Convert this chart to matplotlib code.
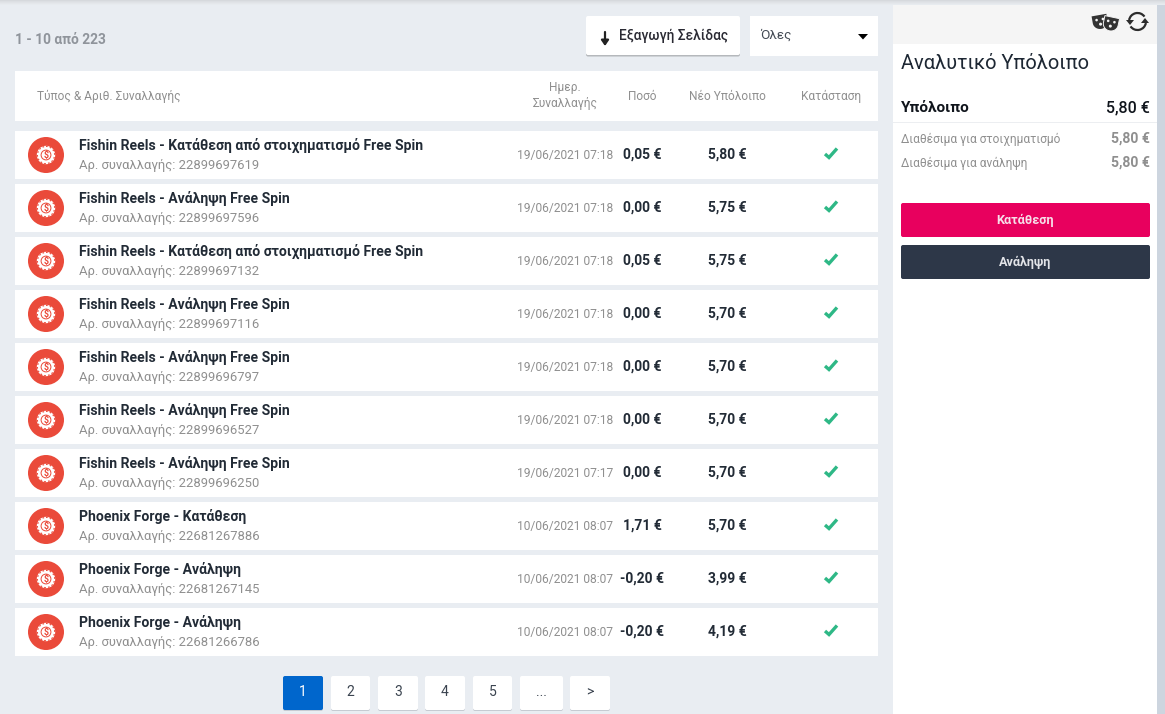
import numpy as np
import matplotlib
matplotlib.use("Agg")
import matplotlib.pyplot as plt
from matplotlib.patches import Rectangle, Circle, FancyBboxPatch, Arc, Polygon

plt.rcParams['font.family'] = ['Roboto', 'DejaVu Sans']

# ---- data ----
titles = ["Fishin Reels - Κατάθεση από στοιχηματισμό Free Spin", "Fishin Reels - Ανάληψη Free Spin",
          "Fishin Reels - Κατάθεση από στοιχηματισμό Free Spin", "Fishin Reels - Ανάληψη Free Spin",
          "Fishin Reels - Ανάληψη Free Spin", "Fishin Reels - Ανάληψη Free Spin",
          "Fishin Reels - Ανάληψη Free Spin", "Phoenix Forge - Κατάθεση",
          "Phoenix Forge - Ανάληψη", "Phoenix Forge - Ανάληψη"]
tx_ids = ["22899697619", "22899697596", "22899697132", "22899697116", "22899696797",
          "22899696527", "22899696250", "22681267886", "22681267145", "22681266786"]
dates = ["19/06/2021 07:18"] * 6 + ["19/06/2021 07:17"] + ["10/06/2021 08:07"] * 3
amounts = ["0,05 €", "0,00 €", "0,05 €", "0,00 €", "0,00 €", "0,00 €", "0,00 €", "1,71 €", "-0,20 €", "-0,20 €"]
balances = ["5,80 €", "5,75 €", "5,75 €", "5,70 €", "5,70 €", "5,70 €", "5,70 €", "5,70 €", "3,99 €", "4,19 €"]
pages = ["1", "2", "3", "4", "5", "...", ">"]
page_lefts = [283, 331, 378, 425, 473, 520, 570]
page_rights = [323, 370, 418, 465, 512, 563, 610]

BG = "#e9edf2"; DARK = "#222b36"; GREY = "#8f8f8f"; RED = "#ea4a3a"; GREEN = "#2eb886"

fig = plt.figure(figsize=(11.65, 7.14), dpi=100, facecolor=BG)
ax = fig.add_axes([0, 0, 1, 1])
ax.set_xlim(0, 1165); ax.set_ylim(714, 0); ax.axis("off")

def rect(x0, y0, x1, y1, color, z=1, **kw):
    ax.add_patch(Rectangle((x0, y0), x1 - x0, y1 - y0, facecolor=color, edgecolor="none", zorder=z, **kw))

def rrect(x0, y0, x1, y1, color, r=2, z=1):
    ax.add_patch(FancyBboxPatch((x0 + r, y0 + r), x1 - x0 - 2 * r, y1 - y0 - 2 * r,
                                boxstyle=f"round,pad={r},rounding_size={r}", facecolor=color,
                                edgecolor="none", zorder=z))

def txt(x, y, s, size, color=DARK, weight="normal", ha="left", z=5, **kw):
    ax.text(x, y, s, fontsize=size, color=color, fontweight=weight, ha=ha, va="center", zorder=z, **kw)

def check(cx, cy):
    ax.plot([cx - 6, cx - 2, cx + 6], [cy + 0.5, cy + 4, cy - 5], color=GREEN, lw=2.4,
            solid_capstyle="butt", solid_joinstyle="miter", zorder=5)

def chip(cx, cy):
    ax.add_patch(Circle((cx, cy), 18, facecolor=RED, edgecolor="none", zorder=3))
    ax.add_patch(Circle((cx, cy), 9.2, facecolor="white", edgecolor="none", zorder=4))
    ax.add_patch(Circle((cx, cy), 8.6, facecolor="none", edgecolor=RED, lw=0.8, ls=(0, (1.5, 2.0)), zorder=5))
    ax.add_patch(Circle((cx, cy), 5.4, facecolor=RED, edgecolor="none", zorder=5))
    ax.add_patch(Circle((cx, cy), 4.4, facecolor="white", edgecolor="none", zorder=6))
    ax.text(cx, cy + 0.2, "$", fontsize=6.4, color=RED, fontweight="bold", ha="center", va="center", zorder=7)

def mask(cx, cy, angle, color, edge=None):
    t = np.linspace(0, np.pi, 24)
    xs = np.concatenate([[-7.5], 7.5 * np.cos(t[::-1]), [7.5]])
    ys = np.concatenate([[-6], 1 + 7 * np.sin(t[::-1]), [-6]])
    a = np.radians(angle)
    px = cx + xs * np.cos(a) - ys * np.sin(a)
    py = cy + xs * np.sin(a) + ys * np.cos(a)
    ax.add_patch(Polygon(np.column_stack([px, py]), closed=True, facecolor=color,
                         edgecolor=edge or "none", lw=0.7, zorder=6))
    for ex in (-3.2, 3.2):
        ax.add_patch(Circle((cx + ex * np.cos(a) + 1.5 * np.sin(a), cy + ex * np.sin(a) - 1.5 * np.cos(a)),
                            1.3, facecolor="#f5f5f5", edgecolor="none", zorder=7))
    ax.add_patch(Circle((cx - 3.2 * np.sin(a), cy + 3.2 * np.cos(a)), 1.5, facecolor="#f5f5f5",
                        edgecolor="none", zorder=7))

# top shadow
for i, c in enumerate(["#d6d9dd", "#dcdfe3", "#e0e3e7", "#e4e7eb", "#e7ebef"]):
    rect(0, i, 1165, i + 1, c, z=9)

# left header
txt(15, 39.5, "1 - 10 από 223", 9.95, color="#8f949b", weight="bold")

# export button
rrect(586, 17, 740, 56.5, "#b5b8bc", z=1)
rrect(586, 16, 740, 55, "white", z=2)
ax.annotate("", xy=(605, 46), xytext=(605, 32),
            arrowprops=dict(arrowstyle="-|>,head_width=0.22,head_length=0.32", color="#222", lw=1.6,
                            shrinkA=0, shrinkB=0), zorder=5)
txt(619, 36, "Εξαγωγή Σελίδας", 9.9, color="#2a2a33", weight="medium")

# dropdown
rect(750, 16, 878, 56, "white", z=2)
txt(760, 35.5, "Όλες", 9.7, color="#444b55")
ax.add_patch(Polygon([(858, 34), (868, 34), (863, 39.5)], closed=True, facecolor="black", edgecolor="none", zorder=5))

# table header
rect(15, 71, 878, 121, "white", z=2)
txt(37, 96, "Τύπος & Αριθ. Συναλλαγής", 8.6, color=GREY)
txt(565, 87, "Ημερ.", 8.6, color=GREY, ha="center")
txt(565, 104, "Συναλλαγής", 8.6, color=GREY, ha="center")
txt(642, 96, "Ποσό", 8.6, color=GREY, ha="center")
txt(727, 96, "Νέο Υπόλοιπο", 8.6, color=GREY, ha="center")
txt(831, 96, "Κατάσταση", 8.6, color=GREY, ha="center")

# rows
for i in range(len(titles)):
    top = 131 + 53 * i
    rect(15, top, 878, top + 48, "white", z=2)
    chip(46, top + 24)
    txt(79, top + 14.3, titles[i], 10.07, color=DARK, weight="bold")
    txt(79, top + 34.3, "Αρ. συναλλαγής: " + tx_ids[i], 9.35, color=GREY)
    txt(565, top + 24.2, dates[i], 8.65, color=GREY, ha="center")
    txt(642, top + 23.8, amounts[i], 10, color=DARK, weight="bold", ha="center")
    txt(727, top + 23.8, balances[i], 10, color=DARK, weight="bold", ha="center")
    check(831, top + 22.5)

# pagination
for i, p in enumerate(pages):
    active = i == 0
    rrect(page_lefts[i], 677, page_rights[i], 711, "#c6cbd2", z=1)
    rrect(page_lefts[i], 676, page_rights[i], 710, "#0066cc" if active else "white", z=2)
    txt((page_lefts[i] + page_rights[i]) / 2, 692.5, p, 10,
        color="white" if active else "#3b4450", ha="center")

# sidebar
rect(893, 0, 1157, 714, "white", z=2)
rect(893, 0, 1157, 44, "#f5f5f5", z=3)
rect(1157, 0, 1165, 714, "#cdd5df", z=2)
rect(893, 122, 1157, 123, "#eceef1", z=3)

# mask icons
mask(1100, 21, -10, "#333333")
mask(1111, 23, 12, "#333333", edge="#f5f5f5")

# refresh icon
ax.add_patch(Arc((1137.5, 21.5), 17, 17, theta1=190, theta2=325, color="#2c2c2c", lw=1.6, zorder=5))
ax.add_patch(Arc((1137.5, 21.5), 17, 17, theta1=10, theta2=145, color="#2c2c2c", lw=1.6, zorder=5))
ax.add_patch(Polygon([(1126, 20), (1134, 20), (1130, 25)], closed=True, facecolor="#2c2c2c", edgecolor="none", zorder=5))
ax.add_patch(Polygon([(1141, 23), (1149, 23), (1145, 18)], closed=True, facecolor="#2c2c2c", edgecolor="none", zorder=5))

# balance panel
txt(901, 63.5, "Αναλυτικό Υπόλοιπο", 14.4, color="#1d2733", z=5)
txt(901, 108, "Υπόλοιπο", 11.1, color="#10151c", weight="bold")
txt(1150, 108, "5,80 €", 11.5, color="#10151c", weight="medium", ha="right")
txt(901, 139, "Διαθέσιμα για στοιχηματισμό", 8.6, color=GREY)
txt(1150, 138.3, "5,80 €", 10.1, color=GREY, weight="bold", ha="right")
txt(901, 163, "Διαθέσιμα για ανάληψη", 8.6, color=GREY)
txt(1150, 162.3, "5,80 €", 10.1, color=GREY, weight="bold", ha="right")

rrect(901, 203, 1150, 237, "#e8005e", z=4)
txt(1025.5, 220, "Κατάθεση", 9.1, color="#f6dfe9", weight="bold", ha="center")
rrect(901, 245, 1150, 279, "#2d3748", z=4)
txt(1025.5, 262, "Ανάληψη", 9.1, color="#e2e4e8", weight="bold", ha="center")

fig.savefig("out.png", dpi=100, facecolor=BG)
